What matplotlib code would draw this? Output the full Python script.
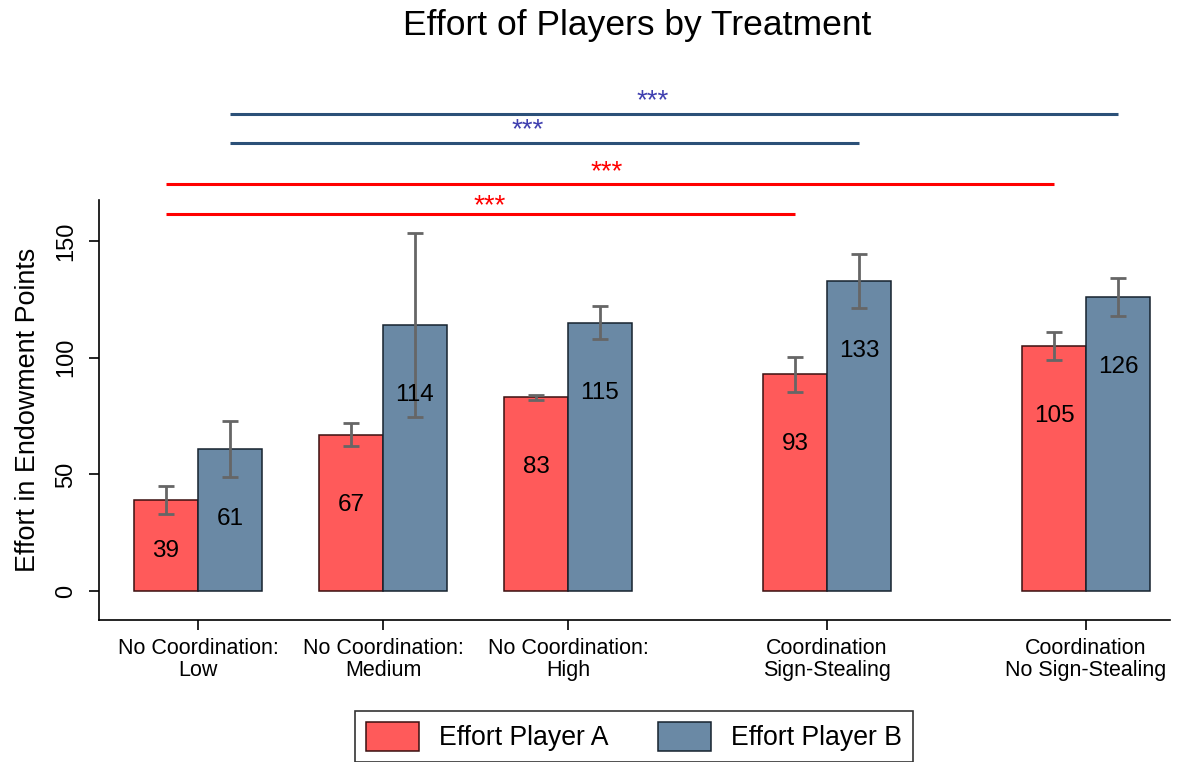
import numpy as np
import matplotlib
matplotlib.use("Agg")
import matplotlib.pyplot as plt
from matplotlib.patches import Patch

plt.rcParams['font.family'] = ['Liberation Sans', 'DejaVu Sans']

# Treatments and group positions on the x axis
treatments = ["No Coordination:\nLow", "No Coordination:\nMedium",
              "No Coordination:\nHigh", "Coordination\nSign-Stealing",
              "Coordination\nNo Sign-Stealing"]
positions = np.array([1.0, 2.0, 3.0, 4.4, 5.8])

# Mean effort and error half-widths per player
effort_a = np.array([39, 67, 83, 93, 105])
effort_b = np.array([61, 114, 115, 133, 126])
err_a = np.array([6, 5, 1, 7.5, 6])
err_b = np.array([12, 39.5, 7, 11.5, 8])

# Significance comparisons: (player, from group, to group, line level, label)
comparisons = [
    ("A", 0, 3, 161.5, "***"),
    ("A", 0, 4, 174.3, "***"),
    ("B", 0, 3, 192.0, "***"),
    ("B", 0, 4, 204.3, "***"),
]
star_x = [2.578, 3.211, 2.784, 3.459]
star_y = [161.9, 176.4, 194.4, 206.9]

red_fill = "#FF5A5A"
red_edge = "#3a1010"
blue_fill = "#6A89A5"
blue_edge = "#16222e"
err_color = "#666666"
line_colors = {"A": "#FF0000", "B": "#2B5078"}
star_colors = {"A": "#FF0000", "B": "#4040B0"}

W, H = 1177, 762
fig = plt.figure(figsize=(W / 100, H / 100), dpi=100)
ax = fig.add_axes([99 / W, 1 - 620 / H, (1170 - 99) / W, 420 / H])

w = 0.346
xa = positions - w / 2
xb = positions + w / 2

ax.bar(xa, effort_a, width=w, color=red_fill, edgecolor=red_edge, linewidth=1.1, zorder=2)
ax.bar(xb, effort_b, width=w, color=blue_fill, edgecolor=blue_edge, linewidth=1.1, zorder=2)
ax.errorbar(xa, effort_a, yerr=err_a, fmt="none", ecolor=err_color, elinewidth=2,
            capsize=5.5, capthick=2, zorder=3)
ax.errorbar(xb, effort_b, yerr=err_b, fmt="none", ecolor=err_color, elinewidth=2,
            capsize=5.5, capthick=2, zorder=3)

# Value labels inside the bars
for x, v in zip(xa, effort_a):
    ax.text(x, max(v - 30, 17), f"{v}", ha="center", va="center", fontsize=17.5, zorder=4)
for x, v in zip(xb, effort_b):
    ax.text(x, max(v - 30, 17), f"{v}", ha="center", va="center", fontsize=17.5, zorder=4)

# Significance lines above the plot area
centers = {"A": xa, "B": xb}
for (player, i, j, lvl, lab), sx, sy in zip(comparisons, star_x, star_y):
    cx = centers[player]
    ax.plot([cx[i], cx[j]], [lvl, lvl], color=line_colors[player], lw=2.2,
            clip_on=False, solid_capstyle="butt", zorder=5)
    ax.text(sx, sy, lab, color=star_colors[player], ha="center", va="baseline",
            fontsize=20, clip_on=False)

ax.set_xlim(0.465, 6.254)
ax.set_ylim(-12.4, 167.6)
ax.set_xticks(positions)
ax.set_xticklabels(treatments, fontsize=15.5, linespacing=1.05)
ax.set_yticks([0, 50, 100, 150])
ax.set_yticklabels(["0", "50", "100", "150"], fontsize=17, rotation=90, va="center")
ax.tick_params(axis="x", length=7, width=1.2, pad=6)
ax.tick_params(axis="y", length=7, width=1.2, pad=9)
for s in ["top", "right"]:
    ax.spines[s].set_visible(False)
for s in ["left", "bottom"]:
    ax.spines[s].set_linewidth(1.2)

ax.set_ylabel("Effort in Endowment Points", fontsize=19.4, labelpad=10)
fig.text(637 / W, 1 - 25 / H, "Effort of Players by Treatment", ha="center",
         va="center", fontsize=25.5)

handles = [Patch(facecolor=red_fill, edgecolor=red_edge, linewidth=1.1),
           Patch(facecolor=blue_fill, edgecolor=blue_edge, linewidth=1.1)]
leg = fig.legend(handles, ["Effort Player A", "Effort Player B"], loc="upper center",
                 bbox_to_anchor=(634 / W, 1 - 711 / H), ncol=2, fontsize=19.2,
                 frameon=True, fancybox=False, edgecolor="black",
                 handlelength=2.0, handleheight=1.3, handletextpad=0.75,
                 columnspacing=1.85, borderpad=0.4, borderaxespad=0)
leg.get_frame().set_linewidth(1.2)

fig.savefig("out.png", dpi=100)
